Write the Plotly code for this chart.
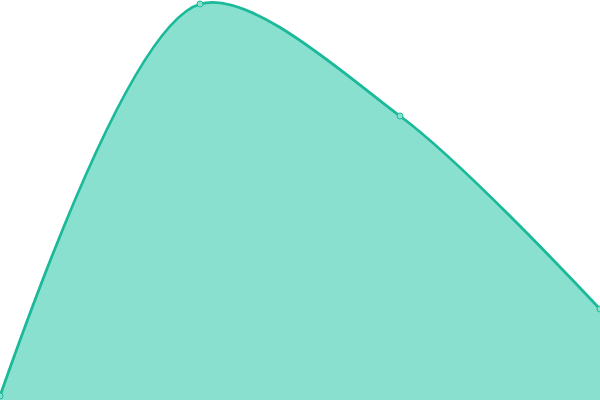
import plotly.graph_objects as go

# categories and values
categories = [0, 1, 2, 3]
values = [1, 99, 71, 22.75]

fig = go.Figure(
    go.Scatter(
        x=categories,
        y=values,
        mode='lines+markers',
        line=dict(shape='spline', smoothing=0.85, color='#1ab99a', width=2.8),
        marker=dict(size=6, color='#8ae0cf', line=dict(color='#1ab99a', width=1)),
        fill='tozeroy',
        fillcolor='#8ae0cf',
    )
)

fig.update_layout(
    width=600,
    height=400,
    margin=dict(l=0, r=0, t=0, b=0),
    paper_bgcolor='white',
    plot_bgcolor='white',
    showlegend=False,
    xaxis=dict(range=[0, 3], visible=False),
    yaxis=dict(range=[0, 100], visible=False),
)

# the page body has a default 8px margin; drop it so the chart fills the window
fig.write_html(
    "out.html",
    config={'displayModeBar': False},
    post_script="document.body.style.margin='0';document.body.style.overflow='hidden';",
)
